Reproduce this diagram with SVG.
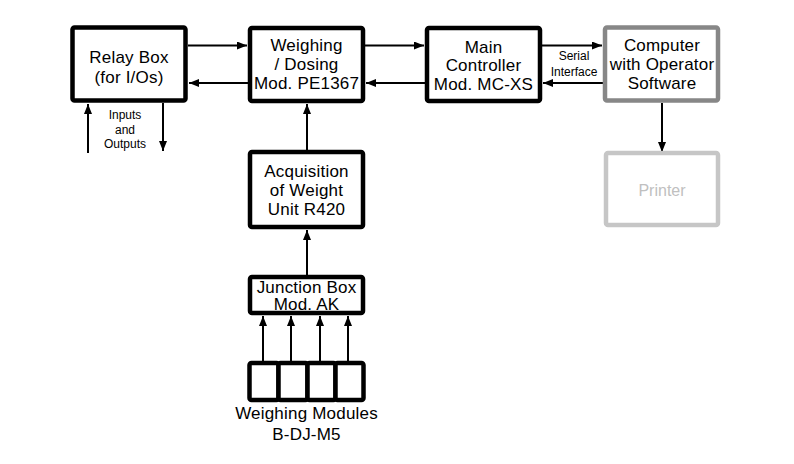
<svg xmlns="http://www.w3.org/2000/svg" width="794" height="464" viewBox="0 0 794 464">
<defs>
<style>
.box{fill:#fff;stroke:#000;stroke-width:4.5}
.t{font-family:"Liberation Sans",Arial,sans-serif;font-size:17px;letter-spacing:0.2px;fill:#000;text-anchor:middle}
.s{font-family:"Liberation Sans",Arial,sans-serif;font-size:12px;fill:#000;text-anchor:middle}
.c{stroke:#000;stroke-width:2;fill:none}
</style>
<marker id="ah" markerUnits="userSpaceOnUse" markerWidth="11" markerHeight="9" refX="10" refY="4" orient="auto">
<path d="M0,0 L10,4 L0,8 Z" fill="#000"/>
</marker>
</defs>
<rect width="794" height="464" fill="#fff"/>
<g id="connectors">
<line class="c" x1="188" y1="45.5" x2="247" y2="45.5" marker-end="url(#ah)"/>
<line class="c" x1="248" y1="83" x2="189" y2="83" marker-end="url(#ah)"/>
<line class="c" x1="365" y1="45.5" x2="424" y2="45.5" marker-end="url(#ah)"/>
<line class="c" x1="425" y1="83" x2="366" y2="83" marker-end="url(#ah)"/>
<line class="c" x1="542" y1="45.5" x2="602" y2="45.5" marker-end="url(#ah)"/>
<line class="c" x1="603" y1="83" x2="543" y2="83" marker-end="url(#ah)"/>
<line class="c" x1="88" y1="153" x2="88" y2="104" marker-end="url(#ah)"/>
<line class="c" x1="163" y1="103" x2="163" y2="151" marker-end="url(#ah)"/>
<line class="c" x1="662" y1="103" x2="662" y2="152" marker-end="url(#ah)"/>
<line class="c" x1="307" y1="150" x2="307" y2="104" marker-end="url(#ah)"/>
<line class="c" x1="307" y1="275" x2="307" y2="230" marker-end="url(#ah)"/>
<line class="c" x1="263" y1="361" x2="263" y2="316" marker-end="url(#ah)"/>
<line class="c" x1="291" y1="361" x2="291" y2="316" marker-end="url(#ah)"/>
<line class="c" x1="320" y1="361" x2="320" y2="316" marker-end="url(#ah)"/>
<line class="c" x1="348" y1="361" x2="348" y2="316" marker-end="url(#ah)"/>
<text class="s" x="125" y="119">Inputs</text>
<text class="s" x="125" y="133.5">and</text>
<text class="s" x="125" y="148">Outputs</text>
<text class="s" x="574" y="60">Serial</text>
<text class="s" x="574" y="76">Interface</text>
</g>
<g id="relay">
<rect class="box" x="72.5" y="27.5" width="113" height="73" rx="2"/>
<text class="t" x="129" y="63">Relay Box</text>
<text class="t" x="129" y="83">(for I/Os)</text>
</g>
<g id="weighing">
<rect class="box" x="250" y="28" width="113" height="73" rx="2"/>
<text class="t" x="306.5" y="51">Weighing</text>
<text class="t" x="306.5" y="70">/ Dosing</text>
<text class="t" x="306.5" y="89">Mod. PE1367</text>
</g>
<g id="main">
<rect class="box" x="427" y="28" width="113" height="73" rx="2"/>
<text class="t" x="483.5" y="52.5">Main</text>
<text class="t" x="483.5" y="71">Controller</text>
<text class="t" x="483.5" y="89.5">Mod. MC-XS</text>
</g>
<g id="computer">
<rect class="box" x="605" y="27.5" width="113" height="73" rx="2" style="stroke:#878787"/>
<text class="t" x="662" y="51">Computer</text>
<text class="t" x="662" y="70">with Operator</text>
<text class="t" x="662" y="89">Software</text>
</g>
<g id="printer">
<rect class="box" x="606" y="153" width="112" height="72" rx="2" style="stroke:#c6c6c6"/>
<text class="t" x="662" y="196" style="fill:#c0c0c0;font-size:16px;letter-spacing:0">Printer</text>
</g>
<g id="acquisition">
<rect class="box" x="250" y="152" width="113" height="75" rx="2"/>
<text class="t" x="306.5" y="177">Acquisition</text>
<text class="t" x="306.5" y="196">of Weight</text>
<text class="t" x="306.5" y="215">Unit R420</text>
</g>
<g id="junction">
<rect class="box" x="250" y="277" width="113" height="36" rx="2"/>
<text class="t" x="306.5" y="293">Junction Box</text>
<text class="t" x="306.5" y="309.5">Mod. AK</text>
</g>
<g id="modules">
<rect class="box" x="249.5" y="363" width="29" height="37" rx="2"/>
<rect class="box" x="278.5" y="363" width="29" height="37" rx="2"/>
<rect class="box" x="307.5" y="363" width="28" height="37" rx="2"/>
<rect class="box" x="335.5" y="363" width="28" height="37" rx="2"/>
<text class="t" x="306.5" y="419">Weighing Modules</text>
<text class="t" x="306.5" y="440">B-DJ-M5</text>
</g>
</svg>
